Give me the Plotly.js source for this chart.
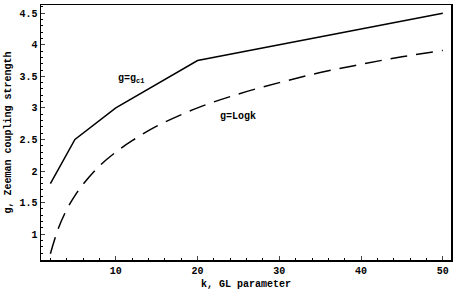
<!DOCTYPE html>
<html><head><meta charset="utf-8">
<script src="https://cdn.plot.ly/plotly-3.0.1.min.js"></script>
<style>body{margin:0;padding:0;background:#fff}#chart{width:457px;height:290px}</style>
</head><body><div id="chart"></div>
<script>
// Solid curve g = g_c1
const kC1 = [2, 5, 10, 20, 50];
const gC1 = [1.8, 2.5, 3.0, 3.75, 4.5];
// Dashed curve g = Log k
const kLog = [2, 3, 4, 5, 6, 8, 10, 12, 15, 20, 25, 30, 35, 40, 45, 50];
const gLog = [0.69, 1.10, 1.39, 1.61, 1.79, 2.08, 2.30, 2.48, 2.71, 3.00, 3.22, 3.40, 3.56, 3.69, 3.81, 3.91];
const xTicks = [10, 20, 30, 40, 50];
const yTicks = [1, 1.5, 2, 2.5, 3, 3.5, 4, 4.5];
const yTickText = ['1', '1.5', '2', '2.5', '3', '3.5', '4', '4.5'];

const font = {family: 'Liberation Mono, Courier New, monospace', size: 10, color: '#000'};
const traces = [
  {x: kC1, y: gC1, mode: 'lines', line: {color: '#000', width: 1.5}, showlegend: false},
  {x: kLog, y: gLog, mode: 'lines', line: {color: '#000', width: 1.5, dash: '17px,9px', shape: 'spline'}, showlegend: false}
];
const layout = {
  width: 457, height: 290,
  margin: {l: 41, r: 6, t: 5, b: 30},
  paper_bgcolor: '#fff', plot_bgcolor: '#fff',
  font: font,
  xaxis: {
    range: [0.85, 51], tickvals: xTicks, ticks: 'inside', ticklen: 4, tickwidth: 1,
    showline: true, linecolor: '#000', linewidth: 1.5, mirror: true, showgrid: false, zeroline: false,
    minor: {dtick: 2, tick0: 0, ticks: 'inside', ticklen: 2, tickcolor: '#000', showgrid: false},
    title: {text: '<b>k, GL parameter</b>', font: font, standoff: 4},
    tickfont: {family: font.family, size: 10, color: '#000', weight: 'bold'}
  },
  yaxis: {
    range: [0.59, 4.63], tickvals: yTicks, ticktext: yTickText, ticks: 'inside', ticklen: 4, tickwidth: 1,
    showline: true, linecolor: '#000', linewidth: 1.5, mirror: true, showgrid: false, zeroline: false,
    minor: {dtick: 0.1, tick0: 0, ticks: 'inside', ticklen: 2, tickcolor: '#000', showgrid: false},
    title: {text: '<b>g, Zeeman coupling strength</b>', font: font, standoff: 6},
    tickfont: {family: font.family, size: 10, color: '#000', weight: 'bold'}
  },
  annotations: [
    {x: 11.8, y: 3.45, text: '<b>g=g<sub>c1</sub></b>', showarrow: false, font: {family: font.family, size: 10, color: '#000'}},
    {x: 24.9, y: 2.87, text: '<b>g=Logk</b>', showarrow: false, font: {family: font.family, size: 10, color: '#000'}}
  ]
};
Plotly.newPlot('chart', traces, layout, {displayModeBar: false, staticPlot: true});
</script></body></html>
